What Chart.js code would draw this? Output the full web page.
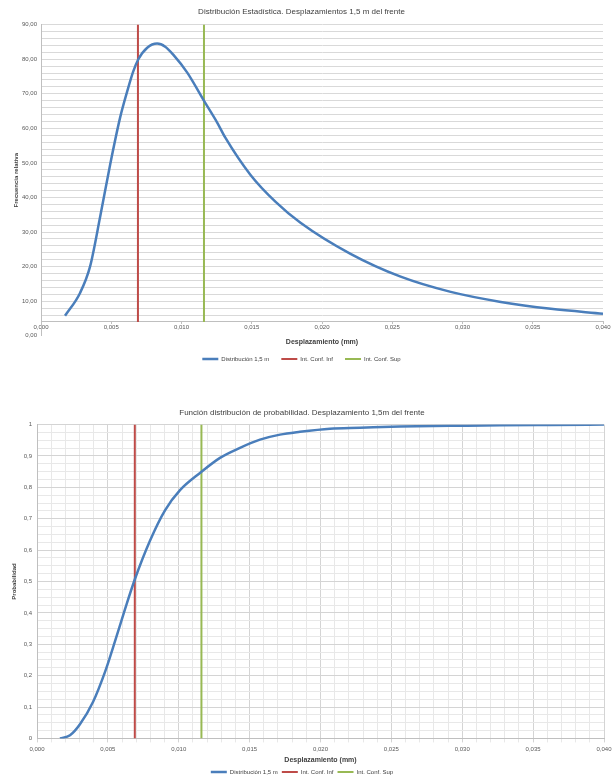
<!DOCTYPE html>
<html><head><meta charset="utf-8">
<script src="https://cdn.jsdelivr.net/npm/chart.js@4/dist/chart.umd.min.js"></script>
<style>
html,body{margin:0;padding:0;background:#fff;width:615px;height:778px;overflow:hidden}
#c1{position:absolute;left:0;top:0}
#c2{position:absolute;left:0;top:395px}
</style></head><body>
<canvas id="c1" width="615" height="378"></canvas>
<canvas id="c2" width="615" height="390"></canvas>
<script>
const titulo1 = 'Distribución Estadística. Desplazamientos 1,5 m del frente';
const titulo2 = 'Función distribución de probabilidad. Desplazamiento 1,5m del frente';
const seriesNames = ['Distribución 1,5 m', 'Int. Conf. Inf', 'Int. Conf. Sup'];
const ejeX = 'Desplazamiento (mm)';
const ejeY1 = 'Frecuencia relativa';
const ejeY2 = 'Probabilidad';

// Densidad (gráfico superior)
const pdfX = [0.00171, 0.00278, 0.00349, 0.00421, 0.00492, 0.00563, 0.00613, 0.00656, 0.00692, 0.00756, 0.00827, 0.00884, 0.00941, 0.01041, 0.01155, 0.01255, 0.01312, 0.01490, 0.01668, 0.01847, 0.02203, 0.02560, 0.02916, 0.03273, 0.03629, 0.04000];
const pdfY = [5.8, 12.4, 20.0, 34.4, 49.5, 63.1, 70.6, 76.4, 79.9, 83.3, 84.5, 83.6, 81.3, 76.1, 68.3, 61.6, 57.3, 46.6, 38.8, 32.7, 23.7, 17.1, 12.7, 9.8, 7.8, 6.4];

// Probabilidad acumulada (gráfico inferior)
const cdfX = [0.00162, 0.00233, 0.00303, 0.00395, 0.00480, 0.00550, 0.00621, 0.00691, 0.00797, 0.00903, 0.01009, 0.01150, 0.01291, 0.01432, 0.01573, 0.01714, 0.01855, 0.02067, 0.02279, 0.02561, 0.02914, 0.03266, 0.03619, 0.04000];
const cdfY = [0.000, 0.010, 0.045, 0.116, 0.212, 0.309, 0.412, 0.508, 0.630, 0.727, 0.791, 0.846, 0.894, 0.926, 0.952, 0.968, 0.977, 0.987, 0.990, 0.994, 0.996, 0.998, 0.999, 1.000];

// Intervalo de confianza
const confInf = 0.0069;
const confSup = 0.0116;

// Ejes
const xMin = 0, xMax = 0.04, xMajor = 0.005;
const y1Min = 0, y1Max = 90, y1Major = 10, y1Cross = 4;
const y2Min = 0, y2Max = 1, y2Major = 0.1;

const F = '"Liberation Sans", Arial, sans-serif';
const cBlue = '#4A7EBB', cRed = '#BE4B48', cGreen = '#98B954';
const cText = '#404040', cTick = '#595959';
const fmt = (v, d) => v.toFixed(d).replace('.', ',');
const isMult = (v, m) => Math.abs(v / m - Math.round(v / m)) < 1e-6;
const pts = (xs, ys) => xs.map((x, i) => ({x: x, y: ys[i]}));
const vline = (x, a, b) => [{x: x, y: a}, {x: x, y: b}];

function legendOpts(pad, gap) {
  return {
    position: 'bottom',
    title: {display: gap > 0, text: ' ', font: {size: 1}, padding: {top: gap, bottom: 0}},
    labels: {font: {family: F, size: 6}, color: cText, usePointStyle: true, pointStyle: 'line',
      pointStyleWidth: 16, boxWidth: 16, boxHeight: 6, padding: pad}
  };
}

new Chart(document.getElementById('c1'), {
  type: 'line',
  data: {
    datasets: [
      {label: seriesNames[0], data: pts(pdfX, pdfY), borderColor: cBlue, backgroundColor: cBlue, borderWidth: 2.5, pointRadius: 0, cubicInterpolationMode: 'monotone'},
      {label: seriesNames[1], data: vline(confInf, y1Cross, y1Max), borderColor: cRed, backgroundColor: cRed, borderWidth: 2, pointRadius: 0},
      {label: seriesNames[2], data: vline(confSup, y1Cross, y1Max), borderColor: cGreen, backgroundColor: cGreen, borderWidth: 2, pointRadius: 0}
    ]
  },
  options: {
    responsive: false, animation: false, devicePixelRatio: 1,
    layout: {padding: {left: 0, right: 12, top: 0, bottom: 6}},
    plugins: {
      title: {display: true, text: titulo1, color: cText, font: {family: F, size: 8, weight: 'normal'}, padding: {top: 7, bottom: 8}},
      legend: legendOpts(12, 7),
      tooltip: {enabled: false}
    },
    scales: {
      x: {
        type: 'linear', min: xMin, max: xMax, position: {y: y1Cross},
        ticks: {stepSize: xMajor, autoSkip: false, maxRotation: 0, font: {family: F, size: 6}, color: cTick, padding: 0, callback: v => fmt(v, 3)},
        grid: {drawOnChartArea: false, drawTicks: true, tickLength: 2, color: '#BFBFBF'},
        border: {color: '#BFBFBF'},
        title: {display: true, text: ejeX, color: cText, font: {family: F, size: 7, weight: 'bold'}, padding: {top: 7, bottom: 0}}
      },
      y: {
        min: y1Min, max: y1Max,
        afterFit: s => { s.width = 41; },
        ticks: {stepSize: 2, autoSkip: false, font: {family: F, size: 6}, color: cTick, padding: 4,
          callback: v => isMult(v, y1Major) ? fmt(v, 2) : ''},
        grid: {drawTicks: false, color: ctx => (ctx.tick && ctx.tick.value < y1Cross) ? 'rgba(0,0,0,0)' : '#D9D9D9'},
        border: {color: '#BFBFBF'},
        title: {display: true, text: ejeY1, color: cText, font: {family: F, size: 6, weight: 'bold'}, padding: {top: 13, bottom: 0}}
      }
    }
  }
});

new Chart(document.getElementById('c2'), {
  type: 'line',
  data: {
    datasets: [
      {label: seriesNames[0], data: pts(cdfX, cdfY), borderColor: cBlue, backgroundColor: cBlue, borderWidth: 2.5, pointRadius: 0, cubicInterpolationMode: 'monotone'},
      {label: seriesNames[1], data: vline(confInf, y2Min, y2Max), borderColor: cRed, backgroundColor: cRed, borderWidth: 2, pointRadius: 0},
      {label: seriesNames[2], data: vline(confSup, y2Min, y2Max), borderColor: cGreen, backgroundColor: cGreen, borderWidth: 2, pointRadius: 0}
    ]
  },
  options: {
    responsive: false, animation: false, devicePixelRatio: 1,
    layout: {padding: {left: 0, right: 11, top: 0, bottom: 0}},
    plugins: {
      title: {display: true, text: titulo2, color: cText, font: {family: F, size: 8, weight: 'normal'}, padding: {top: 13, bottom: 7}},
      legend: legendOpts(4, 0),
      tooltip: {enabled: false}
    },
    scales: {
      x: {
        type: 'linear', min: xMin, max: xMax, position: 'bottom',
        ticks: {stepSize: 0.001, autoSkip: false, maxRotation: 0, font: {family: F, size: 6}, color: cTick, padding: 3,
          callback: v => isMult(v, xMajor) ? fmt(v, 3) : ''},
        grid: {tickLength: 4, color: ctx => (ctx.tick && isMult(ctx.tick.value, xMajor)) ? '#D4D4D4' : '#E8E8E8'},
        border: {color: '#BFBFBF'},
        title: {display: true, text: ejeX, color: cText, font: {family: F, size: 7, weight: 'bold'}, padding: {top: 0, bottom: 1}}
      },
      y: {
        min: y2Min, max: y2Max,
        afterFit: s => { s.width = 37; },
        ticks: {stepSize: 0.025, autoSkip: false, font: {family: F, size: 6}, color: cTick, padding: 5,
          callback: v => isMult(v, y2Major) ? (isMult(v, 1) ? String(Math.round(v)) : fmt(v, 1)) : ''},
        grid: {drawTicks: false, color: ctx => (ctx.tick && isMult(ctx.tick.value, y2Major)) ? '#D4D4D4' : '#E8E8E8'},
        border: {color: '#BFBFBF'},
        title: {display: true, text: ejeY2, color: cText, font: {family: F, size: 6, weight: 'bold'}, padding: {top: 11, bottom: 0}}
      }
    }
  }
});
</script>
</body></html>
